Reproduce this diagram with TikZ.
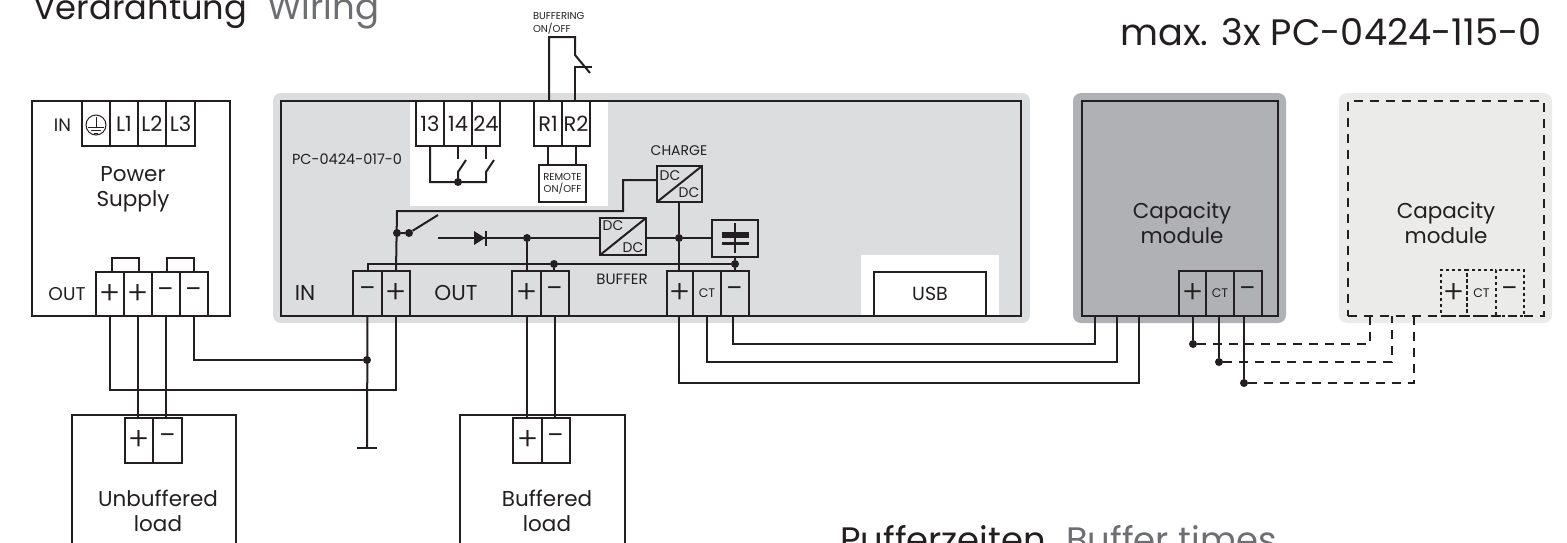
\documentclass[tikz,border=0pt]{standalone}
\usepackage{fontspec}
\setmainfont{Poppins}
\newfontfamily\symfam{Poppins}[UprightFont=* Light]
\definecolor{ink}{HTML}{231F20}
\definecolor{greytxt}{HTML}{6D6E71}
\definecolor{boxgrey}{HTML}{DCDDDF}
\definecolor{darkgrey}{HTML}{B0B1B4}
\definecolor{lightgrey}{HTML}{EBEBEA}
\newcommand{\fsz}[2]{\fontsize{#1}{#2}\selectfont}
\newcommand{\pls}{{\symfam\fsz{32}{32}+}}
\newcommand{\mns}{{\symfam\fsz{32}{32}−}}
\newcommand{\cts}{{\fsz{12.5}{14}CT}}
\tikzset{
  wire/.style={line width=2pt,draw=ink,line join=miter},
  dashwire/.style={wire,dash pattern=on 9pt off 7pt},
  dotbox/.style={line width=2pt,draw=ink,dash pattern=on 3pt off 3pt},
  junction/.style={circle,fill=ink,draw=none,inner sep=0pt,minimum size=8pt},
  termbase/.style={rectangle,inner sep=0pt,outer sep=0pt,text=ink,font=\fsz{21}{23}},
  txt/.style={inner sep=0pt,outer sep=0pt,text=ink,align=center},
  big/.style={txt,font=\fsz{21.5}{25}},
  mid/.style={txt,font=\fsz{14}{16}},
  tiny/.style={txt,font=\fsz{10}{13}},
  halo/.style={rounded corners=8pt,draw=none},
  encl/.style={draw=ink,line width=2pt,rectangle,inner sep=0pt,outer sep=0pt},
  titletxt/.style={anchor=base west,inner sep=0pt,text=ink},
  titlegrey/.style={anchor=base west,inner sep=0pt,text=greytxt},
}
% name, x0, y0, x1, y1, text, extra style
\newcommand{\term}[7][draw=ink,line width=2pt]{%
  \node[termbase,#1,minimum width={(#5-#3)*1pt},minimum height={(#6-#4)*1pt}] (#2) at ({(#3+#5)/2},{(#4+#6)/2}) {#7};}
\begin{document}
\begin{tikzpicture}[x=1pt,y=-1pt]
\useasboundingbox (0,0) rectangle (1567,542);
\clip (0,0) rectangle (1567,542);

% titles
\node[titletxt,font=\fsz{33.7}{36}] (titleA) at (33,19) {Verdrahtung};
\node[titlegrey,font=\fsz{35.5}{38}] (titleB) at (267,19) {Wiring};
\node[anchor=base east,inner sep=0pt,text=ink,font=\fsz{36.8}{38}] (titleC) at (1542,45) {max. 3x PC-0424-115-0};
\node[titletxt,font=\fsz{35.4}{37}] (titleD) at (840,552) {Pufferzeiten};
\node[titlegrey,font=\fsz{35.4}{37}] (titleE) at (1066,552) {Buffer times};

% backgrounds
\fill[boxgrey,halo] (273,93) rectangle (1030,323);
\fill[darkgrey,halo] (1073,93) rectangle (1286,323);
\fill[lightgrey,halo] (1339,93) rectangle (1552,323);
\fill[white] (410,101) rectangle (608,206);
\fill[white] (861,255) rectangle (999,316);

% enclosures
\node[encl,minimum width=198pt,minimum height=215pt] (psu) at (131,208.5) {};
\node[encl,minimum width=740pt,minimum height=215pt] (main) at (651,208.5) {};
\node[encl,minimum width=196pt,minimum height=215pt] (capA) at (1180,208.5) {};
\node[dashwire,rectangle,inner sep=0pt,outer sep=0pt,minimum width=196pt,minimum height=215pt] (capB) at (1446,208.5) {};
\node[encl,minimum width=164pt,minimum height=160pt] (loadU) at (154,495) {};
\node[encl,minimum width=165pt,minimum height=160pt] (loadB) at (542.5,495) {};

% power supply labels and terminals
\node[txt,font=\fsz{18}{20}] (psuIn) at (62.5,125) {IN};
\node[txt,font=\fsz{18.5}{20}] (psuOut) at (67,294) {OUT};
\node[big] (psuName) at (133,189) {Power\\Supply};
\term{pe}{82}{101}{110}{146}{}
\term{pLa}{110}{101}{138}{146}{L1}
\term{pLb}{138}{101}{166}{146}{L2}
\term{pLc}{166}{101}{195}{146}{L3}
\draw[ink,line width=1pt] (96,125) circle (10);
\draw[ink,line width=1pt] (96,117) -- (96,127) (88,127) -- (104,127) (91,130) -- (101,130) (94,133) -- (98,133);
\term{pOa}{96}{272}{124}{316}{\pls}
\term{pOb}{124}{272}{152}{316}{\pls}
\term{pOc}{152}{272}{180}{316}{\mns}
\term{pOd}{180}{272}{208}{316}{\mns}
\coordinate (jumpA) at (125.5,258);
\coordinate (jumpB) at (180.5,258);
\draw[wire] (112,272) |- (jumpA) -| (139,272);
\draw[wire] (167,272) |- (jumpB) -| (194,272);

% main labels
\node[txt,font=\fsz{14.5}{16},anchor=west] (pcName) at (292,159) {PC-0424-017-0};
\node[big] (mainIn) at (305,293) {IN};
\node[big] (mainOut) at (456,293) {OUT};
\node[mid] (charge) at (679,151) {CHARGE};
\node[mid,font=\fsz{15}{17}] (buffer) at (622,279) {BUFFER};
\node[anchor=west,tiny,align=left] (bufOnOff) at (533,23.5) {BUFFERING\\ON/OFF};

% relay terminals
\term{tA}{416}{101}{444}{146}{13}
\term{tB}{444}{101}{472}{146}{14}
\term{tC}{472}{101}{500}{146}{24}
\term{tRa}{534}{101}{562}{146}{R1}
\term{tRb}{562}{101}{590}{146}{R2}
\term[draw=ink,line width=2pt,fill=white,font=\fsz{10}{12},align=center]{remote}{539}{165}{586}{202}{REMOTE\\ON/OFF}
\draw[wire] (tRa.south) -- (tRa.south |- remote.north);
\draw[wire] (tRb.south) -- (tRb.south |- remote.north);

% relay contacts
\node[junction] (jR) at (458,182) {};
\coordinate (swAa) at (458,172); \coordinate (swAb) at (466,160); \coordinate (swAc) at (458,159);
\coordinate (swBa) at (486,172); \coordinate (swBb) at (494,160); \coordinate (swBc) at (486,159);
\coordinate (swBd) at (486,182);
\draw[wire] (tA.south) |- (swBd) -- (swBa) -- (swBb);
\draw[wire] (jR) -- (swAa) -- (swAb);
\draw[wire] (tB.south) -- (swAc);
\draw[wire] (tC.south) -- (swBc);

% external remote switch
\coordinate (extTop) at (549,37);
\coordinate (extA) at (575,37);
\coordinate (extB) at (575,55);
\coordinate (extC) at (590,73);
\coordinate (extD) at (575,67);
\coordinate (extE) at (592,67);
\coordinate (extF) at (575,101);
\coordinate (extG) at (549,101);
\draw[wire] (extG) -- (extTop) -- (extA) -- (extB) -- (extC);
\draw[wire] (extF) -- (extD) -- (extE);

% main terminals
\term{inM}{353}{271}{382}{316}{\mns}
\term{inP}{382}{271}{410}{316}{\pls}
\term{outP}{512}{271}{541}{316}{\pls}
\term{outM}{541}{271}{569}{316}{\mns}
\term{bufP}{667}{271}{693}{316}{\pls}
\term{bufC}{693}{271}{721}{316}{\cts}
\term{bufM}{721}{271}{749}{316}{\mns}
\term[draw=ink,line width=2pt,fill=white,font=\fsz{19}{22}]{usb}{874}{272}{986}{316}{USB}

% converters
\term{chg}{657}{166}{702}{202}{}
\term{bfc}{600}{218}{646}{255}{}
\draw[wire] (chg.south west) -- (chg.north east);
\draw[wire] (bfc.south west) -- (bfc.north east);
\node[mid] (chgA) at (670,176) {DC};
\node[mid] (chgB) at (689,193) {DC};
\node[mid] (bfcA) at (613,226) {DC};
\node[mid] (bfcB) at (633,248) {DC};

% capacitor
\term{capBox}{712}{220}{758}{257}{}
\coordinate (capTop) at (735,223);
\coordinate (capBot) at (735,253);
\draw[wire] (capTop) -- (capBot);
\fill[ink] (722,232) rectangle (749,238);
\fill[ink] (722,242) rectangle (749,245);

% internal wiring
\node[junction] (jIn) at (397,233) {};
\node[junction] (jSw) at (409,233) {};
\coordinate (swEnd) at (438,215);
\coordinate (lineStart) at (438,238);
\node[junction] (jOut) at (527,238) {};
\node[junction] (jBuf) at (679,238) {};
\node[junction] (jMa) at (554,264) {};
\node[junction] (jMb) at (735,264) {};
\coordinate (chgL) at (623,180);
\coordinate (chgM) at (623,211);
\coordinate (chgN) at (397,211);
\draw[wire] (inP.north) -- (chgN) -- (chgM) -- (chgL) -- (chgL -| chg.west);
\draw[wire] (jIn) -- (jSw) -- (swEnd);
\draw[wire] (lineStart) -- (jOut) -- (jOut -| bfc.west);
\draw[wire] (jOut) -- (jOut |- outP.north);
\draw[wire] (jBuf -| bfc.east) -- (jBuf) -- (jBuf -| capBox.west);
\draw[wire] (jBuf |- chg.south) -- (jBuf) -- (jBuf |- bufP.north);
\draw[wire] (inM.north) |- (jMa) -- (jMb) -- (jMb |- capBox.south);
\draw[wire] (jMa) -- (jMa |- outM.north);
\draw[wire] (jMb) -- (jMb |- bufM.north);
% diode
\fill[ink] (474,231) -- (485,238) -- (474,245) -- cycle;
\draw[wire] (486,230.5) -- (486,245.5);

% outer wiring, power side
\node[junction] (jG) at (367,360) {};
\coordinate (gnd) at (367,448);
\coordinate (gndL) at (357,448);
\coordinate (gndR) at (377,448);
\draw[wire] (pOd.south) |- (jG);
\draw[wire] (inM.south) -- (gnd);
\draw[wire] (gndL) -- (gndR);
\coordinate (busR) at (396,390);
\draw[wire] (pOa.south) |- (busR) -- (inP.south);

% unbuffered load
\term{uP}{125}{418}{153}{463}{\pls}
\term{uM}{153}{418}{182}{463}{\mns}
\draw[wire] (pOb.south) -- (uP.north -| pOb.south);
\draw[wire] (pOc.south) -- (uM.north -| pOc.south);
\node[big] (uName) at (158,511) {Unbuffered\\load};

% buffered load
\term{bP}{513}{418}{542}{463}{\pls}
\term{bM}{542}{418}{570}{463}{\mns}
\draw[wire] (outP.south) -- (outP.south |- bP.north);
\draw[wire] (outM.south) -- (outM.south |- bM.north);
\node[big] (bName) at (547,511) {Buffered\\load};

% first capacity module
\node[big] (capAName) at (1182,223) {Capacity\\module};
\term{cP}{1179}{271}{1206}{316}{\pls}
\term{cC}{1206}{271}{1234}{316}{\cts}
\term{cM}{1234}{271}{1262}{316}{\mns}
\coordinate (lnkA) at (1095,344);
\coordinate (lnkB) at (1117,362);
\coordinate (lnkC) at (1139,383);
\coordinate (capAa) at (1095,316);
\coordinate (capAb) at (1117,316);
\coordinate (capAc) at (1139,316);
\draw[wire] ([xshift=-2pt]bufM.south) |- (lnkA) -- (capAa);
\draw[wire] (bufC.south) |- (lnkB) -- (capAb);
\draw[wire] ([xshift=-1pt]bufP.south) |- (lnkC) -- (capAc);

% second capacity module
\node[big] (capBName) at (1446,223) {Capacity\\module};
\term[dotbox]{dP}{1441}{270}{1467}{316}{\pls}
\term[dotbox]{dC}{1467}{270}{1496}{316}{\cts}
\term[dotbox]{dM}{1496}{270}{1524}{316}{\mns}
\node[junction] (jCa) at (1193,344) {};
\node[junction] (jCb) at (1219,362) {};
\node[junction] (jCc) at (1244,383) {};
\draw[wire] (jCa |- cP.south) -- (jCa);
\draw[wire] (jCb |- cC.south) -- (jCb);
\draw[wire] (jCc |- cM.south) -- (jCc);
\coordinate (dshA) at (1370,344);
\coordinate (dshB) at (1392,362);
\coordinate (dshC) at (1414,383);
\coordinate (dshAt) at (1370,316);
\coordinate (dshBt) at (1392,316);
\coordinate (dshCt) at (1414,316);
\draw[dashwire] (jCa) -- (dshA) -- (dshAt);
\draw[dashwire] (jCb) -- (dshB) -- (dshBt);
\draw[dashwire] (jCc) -- (dshC) -- (dshCt);
\end{tikzpicture}
\end{document}
